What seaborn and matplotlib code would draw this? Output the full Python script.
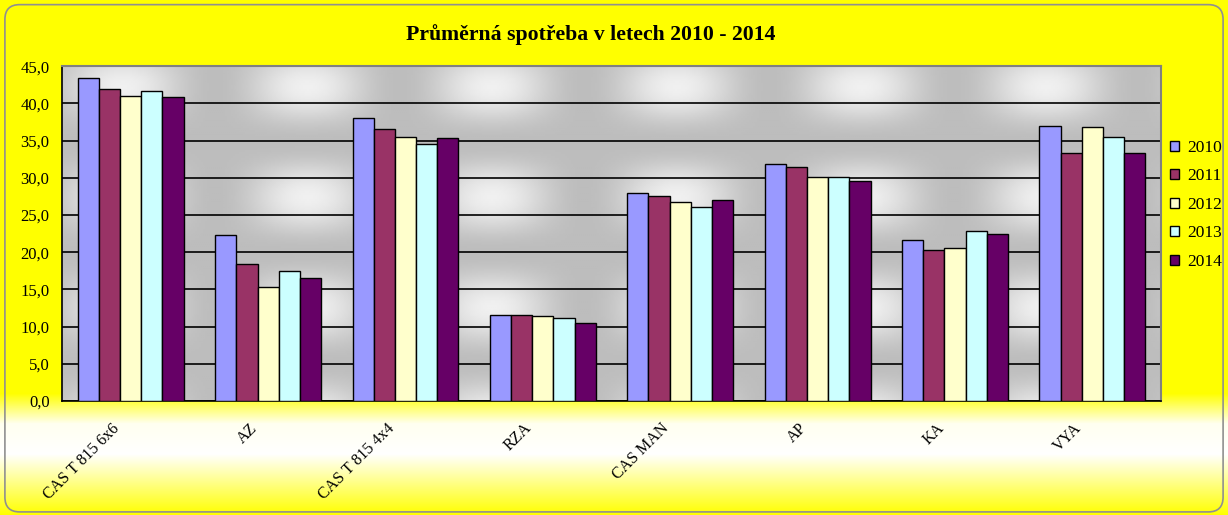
import numpy as np
import pandas as pd
import seaborn as sns
import matplotlib.pyplot as plt
from matplotlib.patches import FancyBboxPatch, Patch
from matplotlib.colors import LinearSegmentedColormap
from matplotlib.transforms import ScaledTranslation

# data
categories = ["CAS T 815 6x6", "AZ", "CAS T 815 4x4", "RZA", "CAS MAN", "AP", "KA", "VYA"]
years = ["2010", "2011", "2012", "2013", "2014"]
v2010 = [43.4, 22.3, 38.0, 11.6, 28.0, 31.8, 21.6, 37.0]
v2011 = [41.9, 18.4, 36.5, 11.6, 27.5, 31.5, 20.3, 33.4]
v2012 = [41.0, 15.35, 35.5, 11.45, 26.7, 30.1, 20.5, 36.8]
v2013 = [41.7, 17.5, 34.5, 11.1, 26.1, 30.1, 22.8, 35.5]
v2014 = [40.9, 16.5, 35.3, 10.5, 27.0, 29.6, 22.45, 33.4]
colors = ["#9999FF", "#993366", "#FFFFCC", "#CCFFFF", "#660066"]

df = pd.DataFrame({
    "kategorie": categories * len(years),
    "rok": np.repeat(years, len(categories)),
    "hodnota": v2010 + v2011 + v2012 + v2013 + v2014,
})

sns.set_style("white")
plt.rcParams["font.family"] = ["Liberation Serif", "DejaVu Serif"]
plt.rcParams["text.color"] = "black"
plt.rcParams["xtick.color"] = "black"
plt.rcParams["ytick.color"] = "black"

fig = plt.figure(figsize=(12.28, 5.15), dpi=100, facecolor="#FFFF00")

# yellow -> white -> yellow band under the plot
bg = fig.add_axes([0, 0, 1, 0.235], zorder=0)
grad_cmap = LinearSegmentedColormap.from_list("yw", ["#FFFF00", "#FFFFF0", "#FFFFFF", "#FFFF80", "#FFFF00"])
bg.imshow(np.linspace(0, 1, 200).reshape(-1, 1), aspect="auto", cmap=grad_cmap, extent=[0, 1, 0, 1])
bg.axis("off")

# rounded chart border
fig.patches.append(FancyBboxPatch((0.004, 0.006), 0.992, 0.985, boxstyle="round,pad=0,rounding_size=0.012",
                                  transform=fig.transFigure, fill=False, ec="#909090", lw=1.2,
                                  mutation_aspect=2.4))

ax = fig.add_axes([0.0505, 0.2214, 0.895, 0.65], zorder=1)

# textured grey plot background
xx, yy = np.meshgrid(np.linspace(0, 1100, 550), np.linspace(0, 335, 170))
tex = 0.74 + 0.2 * (0.5 + 0.5 * np.cos(2 * np.pi * (xx - 60) / 185)) * (0.5 + 0.5 * np.cos(2 * np.pi * (yy - 20) / 111))
ax.imshow(tex, extent=[-0.5, 7.5, 0, 45], aspect="auto", cmap="gray", vmin=0, vmax=1, zorder=0)

sns.barplot(data=df, x="kategorie", y="hodnota", hue="rok", palette=colors, saturation=1, width=0.77,
            edgecolor="black", linewidth=1, ax=ax, zorder=3)

ax.set_xlim(-0.5, 7.5)
ax.set_ylim(0, 45)
ax.set_xlabel("")
ax.set_ylabel("")
ax.yaxis.grid(True, color="black", lw=1.2)
ax.set_axisbelow(True)

ax.set_yticks(np.arange(0, 46, 5))
ax.set_yticklabels([f"{v:.1f}".replace(".", ",") for v in np.arange(0, 46, 5)], fontsize=12)
ax.set_xticks(range(len(categories)))
ax.set_xticklabels(categories, rotation=45, ha="right", va="top", rotation_mode="anchor", fontsize=11.5)
ax.set_xticks(np.arange(-0.5, 8, 1), minor=True)
ax.tick_params(axis="x", which="major", length=0, pad=14, labelcolor="black")
ax.tick_params(axis="x", which="minor", length=5, width=1, direction="out", color="black")
ax.tick_params(axis="y", length=5, width=1, direction="out", color="black", pad=4, labelcolor="black")

# nudge the slanted labels left, like the original
shift = ScaledTranslation(-19 / 100, 0, fig.dpi_scale_trans)
for lbl in ax.get_xticklabels():
    lbl.set_transform(lbl.get_transform() + shift)

for side in ["left", "bottom"]:
    ax.spines[side].set_color("black")
    ax.spines[side].set_linewidth(1.2)
for side in ["top", "right"]:
    ax.spines[side].set_color("#808080")
    ax.spines[side].set_linewidth(1.5)

handles = [Patch(facecolor=c, edgecolor="black", lw=1) for c in colors]
ax.legend(handles, years, loc="center left", bbox_to_anchor=(1170 / 1228, 0.602), bbox_transform=fig.transFigure,
          frameon=False, borderpad=0, borderaxespad=0, handlelength=0.5, handleheight=0.5,
          handletextpad=0.5, labelspacing=0.72, fontsize=12.5, labelcolor="black")

fig.text(0.481, 0.932, "Průměrná spotřeba v letech 2010 - 2014", ha="center", va="center",
         fontsize=15.7, fontweight="bold", color="black")

fig.savefig("out.png", dpi=100, facecolor=fig.get_facecolor())
